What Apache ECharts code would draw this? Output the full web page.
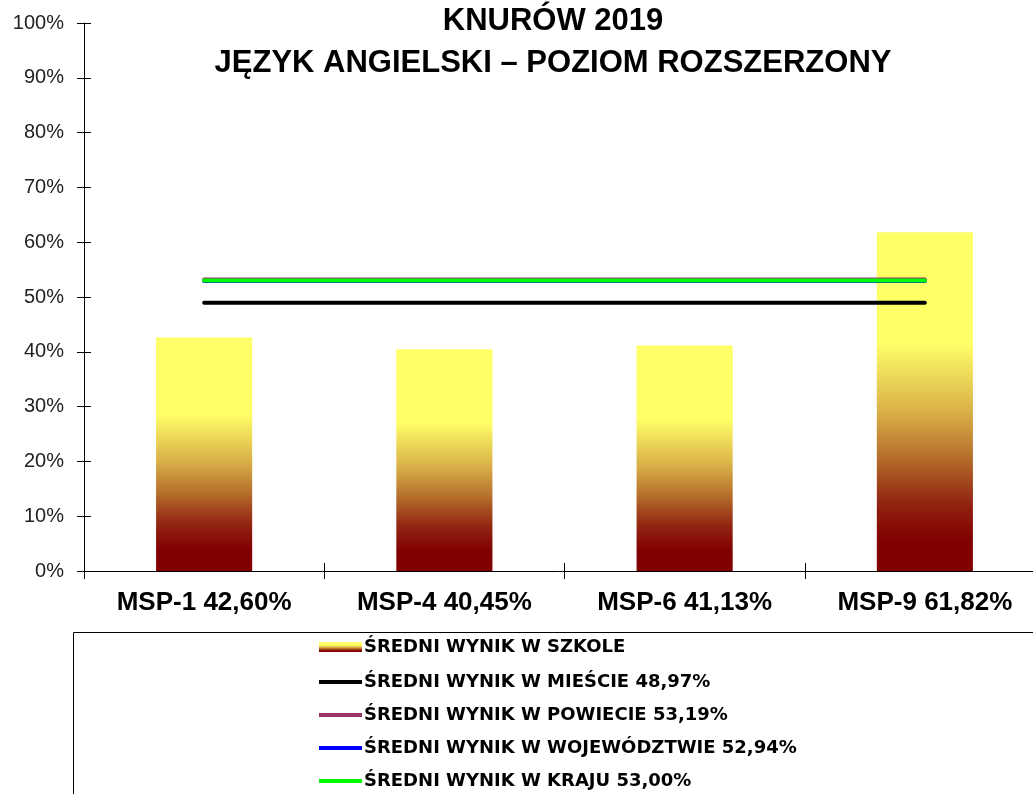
<!DOCTYPE html>
<html>
<head>
<meta charset="utf-8">
<script src="https://cdn.jsdelivr.net/npm/echarts@6/dist/echarts.min.js"></script>
<style>
  html, body { margin: 0; padding: 0; background: #fff; }
  #main { width: 1033px; height: 794px; }
</style>
</head>
<body>
<div id="main"></div>
<script>
// dane
var categories = ['MSP-1 42,60%', 'MSP-4 40,45%', 'MSP-6 41,13%', 'MSP-9 61,82%'];
var schoolValues = [42.60, 40.45, 41.13, 61.82];
var cityAvg = 48.97;
var countyAvg = 53.19;
var voivodeshipAvg = 52.94;
var countryAvg = 53.00;
var seriesNames = [
	'ŚREDNI WYNIK W SZKOLE',
	'ŚREDNI WYNIK W MIEŚCIE 48,97%',
	'ŚREDNI WYNIK W POWIECIE 53,19%',
	'ŚREDNI WYNIK W WOJEWÓDZTWIE 52,94%',
	'ŚREDNI WYNIK W KRAJU 53,00%'
];

var myChart = echarts.init(document.getElementById('main'));

function flatLine(v) {
	return categories.map(function () { return v; });
}

function lineSeries(name, value, color) {
	return {
		name: name,
		type: 'line',
		symbol: 'none',
		data: flatLine(value),
		lineStyle: { width: 4, color: color, cap: 'round' },
		itemStyle: { color: color },
		animation: false
	};
}

var barGradient = new echarts.graphic.LinearGradient(0, 0, 0, 1, [
	{ offset: 0, color: '#FFFF66' },
	{ offset: 0.33, color: '#FFFF66' },
	{ offset: 0.40, color: '#F2E25C' },
	{ offset: 0.53, color: '#D9B048' },
	{ offset: 0.67, color: '#B46C2A' },
	{ offset: 0.80, color: '#922412' },
	{ offset: 0.91, color: '#800000' },
	{ offset: 1, color: '#800000' }
]);

var legendText = {
	fontFamily: 'DejaVu Sans, sans-serif',
	fontWeight: 'bold',
	fontSize: 18,
	lineHeight: 20,
	color: '#000',
	padding: [0, 0, 0, -3]
};

var option = {
	animation: false,
	backgroundColor: '#fff',
	title: {
		text: 'KNURÓW 2019\nJĘZYK ANGIELSKI – POZIOM ROZSZERZONY',
		left: 553,
		textAlign: 'center',
		top: 0,
		padding: 0,
		textStyle: {
			fontFamily: 'Liberation Sans, Arial, sans-serif',
			fontWeight: 'bold',
			fontSize: 31,
			lineHeight: 42,
			color: '#000'
		}
	},
	legend: [{
		orient: 'vertical',
		left: 319,
		top: 637,
		itemWidth: 43,
		itemHeight: 10,
		padding: 0,
		icon: 'rect',
		data: [seriesNames[0]],
		textStyle: legendText
	}, {
		orient: 'vertical',
		left: 319,
		top: 672,
		itemWidth: 43,
		itemHeight: 4,
		itemGap: 13,
		padding: 0,
		icon: 'rect',
		data: seriesNames.slice(1),
		textStyle: legendText
	}],
	graphic: [{
		type: 'rect',
		shape: { x: 73.5, y: 632.5, width: 1000, height: 200 },
		style: { fill: 'none', stroke: '#000', lineWidth: 1 },
		silent: true
	}],
	grid: { left: 84, top: 23, width: 961, bottom: 223, outerBoundsMode: 'none' },
	xAxis: [{
		type: 'category',
		data: categories,
		boundaryGap: true,
		axisLine: { lineStyle: { color: '#000', width: 1 } },
		axisTick: { show: true, length: 8, lineStyle: { color: '#000' } },
		axisLabel: {
			margin: 19,
			fontFamily: 'Liberation Sans, Arial, sans-serif',
			fontWeight: 'bold',
			fontSize: 26,
			color: '#000'
		},
		splitLine: { show: false }
	}, {
		type: 'category',
		data: categories,
		position: 'bottom',
		boundaryGap: true,
		axisLine: { show: false },
		axisTick: { show: true, inside: true, length: 8, lineStyle: { color: '#000' } },
		axisLabel: { show: false },
		splitLine: { show: false }
	}],
	yAxis: [{
		type: 'value',
		min: 0,
		max: 100,
		interval: 10,
		axisLine: { show: true, lineStyle: { color: '#000', width: 1 } },
		axisTick: { show: true, length: 7, lineStyle: { color: '#000' } },
		axisLabel: {
			margin: 20,
			formatter: '{value}%',
			fontFamily: 'Liberation Sans, Arial, sans-serif',
			fontSize: 20,
			color: '#222'
		},
		splitLine: { show: false }
	}, {
		type: 'value',
		position: 'left',
		min: 0,
		max: 100,
		interval: 10,
		axisLine: { show: false },
		axisTick: { show: true, inside: true, length: 7, lineStyle: { color: '#000' } },
		axisLabel: { show: false },
		splitLine: { show: false }
	}],
	series: [
		{
			name: seriesNames[0],
			type: 'bar',
			barWidth: '40%',
			data: schoolValues,
			itemStyle: { color: barGradient }
		},
		lineSeries(seriesNames[1], cityAvg, '#000000'),
		lineSeries(seriesNames[2], countyAvg, '#993366'),
		lineSeries(seriesNames[3], voivodeshipAvg, '#0000FF'),
		lineSeries(seriesNames[4], countryAvg, '#00FF00')
	]
};

myChart.setOption(option);
</script>
</body>
</html>
